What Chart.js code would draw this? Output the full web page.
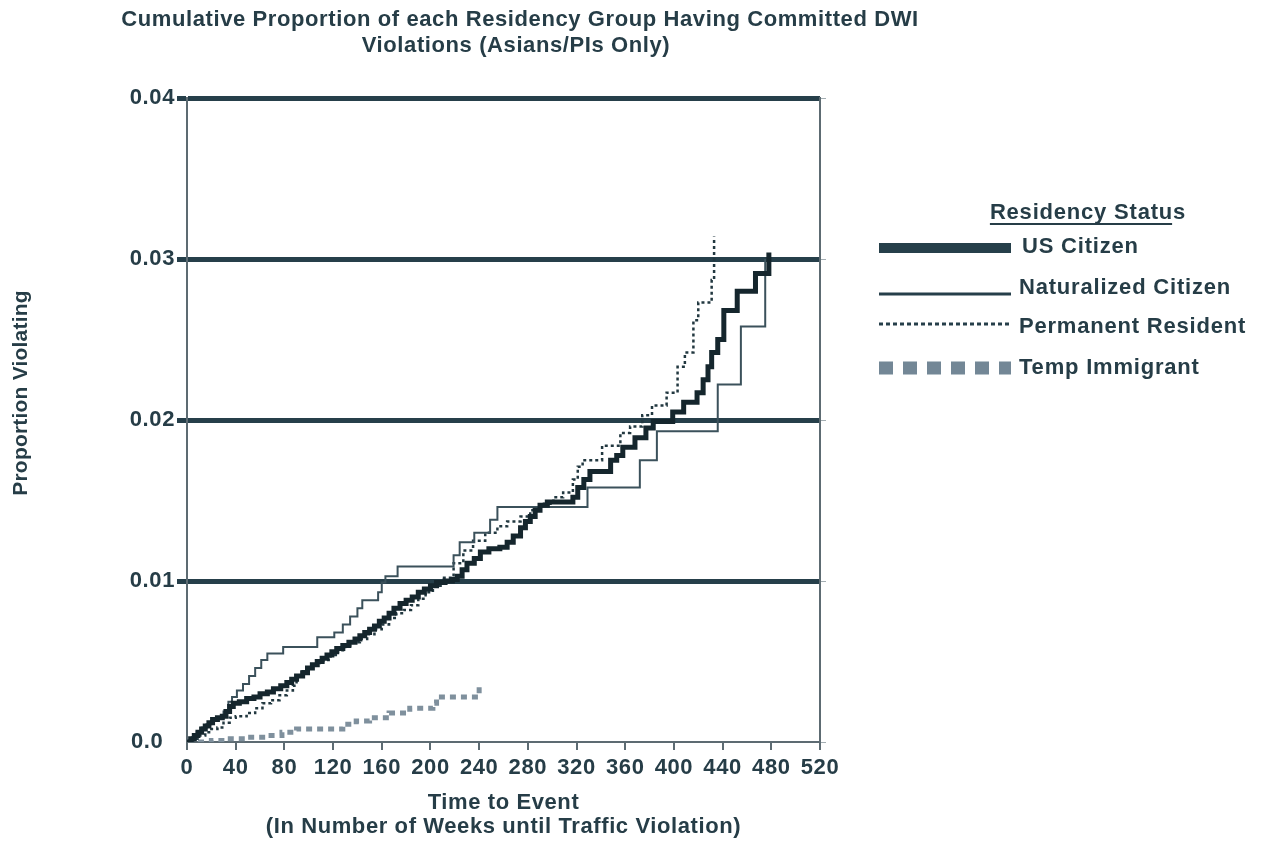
<!DOCTYPE html>
<html>
<head>
<meta charset="utf-8">
<title>Cumulative Proportion of each Residency Group Having Committed DWI Violations</title>
<script src="https://cdn.jsdelivr.net/npm/chart.js@4.4.1/dist/chart.umd.min.js"></script>
<style>
  body { margin: 0; background: #fff; }
  #wrap { width: 1263px; height: 843px; }
</style>
</head>
<body>
<div id="wrap"><canvas id="dwi-chart" width="1263" height="843"></canvas></div>
<script>
// weeks until violation and cumulative proportion
var usWeeks = [0, 3, 6, 9, 12, 15, 18, 21, 25, 29, 32, 35, 38, 43, 49, 55, 60, 66, 71, 77, 82, 86, 90, 95, 99, 103, 107, 111, 115, 119, 123, 128, 133, 138, 142, 146, 150, 154, 158, 162, 166, 170, 175, 180, 185, 190, 195, 200, 205, 212, 218, 222, 226, 230, 236, 241, 248, 257, 263, 268, 274, 278, 282, 286, 290, 296, 317, 321, 326, 331, 348, 353, 358, 368, 377, 383, 399, 408, 419, 424, 428, 431, 436, 441, 452, 467, 478];
var usProp = [0, 0.0002, 0.0004, 0.0006, 0.0008, 0.001, 0.0012, 0.0014, 0.0015, 0.0016, 0.0019, 0.0022, 0.0024, 0.0025, 0.0027, 0.0028, 0.003, 0.0031, 0.0033, 0.0035, 0.0037, 0.0039, 0.0041, 0.0043, 0.0046, 0.0048, 0.005, 0.0052, 0.0054, 0.0056, 0.0058, 0.006, 0.0062, 0.0064, 0.0066, 0.0068, 0.007, 0.0072, 0.0075, 0.0077, 0.008, 0.0083, 0.0086, 0.0088, 0.009, 0.0093, 0.0095, 0.0097, 0.0099, 0.01, 0.0101, 0.0103, 0.0107, 0.0111, 0.0114, 0.0118, 0.012, 0.0121, 0.0124, 0.0128, 0.0133, 0.0137, 0.014, 0.0144, 0.0147, 0.0149, 0.0152, 0.0158, 0.0163, 0.0168, 0.0175, 0.0178, 0.0183, 0.0189, 0.0195, 0.0199, 0.0205, 0.0211, 0.0217, 0.0225, 0.0233, 0.0242, 0.025, 0.0268, 0.028, 0.0291, 0.0304];

var natWeeks = [0, 4, 8, 12, 16, 20, 25, 30, 34, 37, 41, 46, 51, 56, 61, 66, 79, 107, 121, 128, 134, 140, 144, 157, 160, 163, 173, 219, 224, 236, 249, 255, 329, 372, 386, 436, 455, 475];
var natProp = [0, 0.0003, 0.0006, 0.0009, 0.0011, 0.0013, 0.0015, 0.0019, 0.0025, 0.0028, 0.0032, 0.0036, 0.0041, 0.0046, 0.0051, 0.0055, 0.0059, 0.0065, 0.0068, 0.0073, 0.0078, 0.0083, 0.0088, 0.0093, 0.0099, 0.0103, 0.0109, 0.0116, 0.0124, 0.013, 0.0138, 0.0146, 0.0158, 0.0175, 0.0193, 0.0222, 0.0258, 0.03];

var permWeeks = [0, 5, 10, 15, 20, 25, 30, 35, 40, 49, 56, 62, 69, 76, 82, 87, 90, 95, 100, 106, 112, 118, 124, 130, 136, 142, 148, 154, 160, 166, 172, 178, 184, 190, 196, 202, 210, 219, 227, 235, 245, 255, 263, 274, 282, 290, 301, 309, 317, 321, 325, 341, 356, 364, 374, 382, 394, 403, 409, 416, 420, 431, 433];
var permProp = [0, 0.0002, 0.0004, 0.0006, 0.0008, 0.0009, 0.0012, 0.0015, 0.0016, 0.0018, 0.0021, 0.0024, 0.0026, 0.0029, 0.0032, 0.0035, 0.0041, 0.0044, 0.0046, 0.0049, 0.0051, 0.0054, 0.0057, 0.006, 0.0062, 0.0064, 0.0067, 0.007, 0.0073, 0.0077, 0.008, 0.0082, 0.0085, 0.0089, 0.0093, 0.0097, 0.0102, 0.0111, 0.0119, 0.0125, 0.013, 0.0134, 0.0137, 0.014, 0.0144, 0.0148, 0.0152, 0.0155, 0.0163, 0.0171, 0.0175, 0.0184, 0.0192, 0.0196, 0.0203, 0.0209, 0.0217, 0.0233, 0.0242, 0.0262, 0.0273, 0.0287, 0.0314];

var tempWeeks = [0, 20, 33, 50, 65, 78, 90, 128, 139, 150, 166, 183, 202, 205, 240];
var tempProp = [0, 0.0001, 0.0002, 0.0003, 0.0004, 0.0006, 0.0008, 0.0011, 0.0013, 0.0015, 0.0018, 0.0021, 0.0024, 0.0028, 0.0034];

var groupNames = ['US Citizen', 'Naturalized Citizen', 'Permanent Resident', 'Temp Immigrant'];
var xTicks = [0, 40, 80, 120, 160, 200, 240, 280, 320, 360, 400, 440, 480, 520];
var yTicks = [0, 0.01, 0.02, 0.03, 0.04];
var yTickLabels = ['0.0', '0.01', '0.02', '0.03', '0.04'];

var titleLines = ['Cumulative Proportion of each Residency Group Having Committed DWI', 'Violations (Asians/PIs Only)'];
var xTitleLines = ['Time to Event', '(In Number of Weeks until Traffic Violation)'];
var yTitle = 'Proportion Violating';
var legendTitle = 'Residency Status';

var textColor = '#263d47';
var fontFamily = '"Liberation Sans", Arial, sans-serif';
Chart.defaults.font.family = fontFamily;
Chart.defaults.color = textColor;

function toPoints(xs, ys) {
    return xs.map(function (x, i) {
        return { x: x, y: ys[i] };
    });
}

function setTicks(list) {
    return function (scale) {
        scale.ticks = list.map(function (v) { return { value: v }; });
    };
}

// legend samples are drawn a little heavier than the lines themselves
var legendStyles = [
    { width: 10, dash: [], color: '#263f4a' },
    { width: 3, dash: [], color: '#263f4a' },
    { width: 3, dash: [4, 3], color: '#263f4a' },
    { width: 13, dash: [14, 10], color: '#738796' }
];

var decorPlugin = {
    id: 'decor',
    beforeDraw: function (chart) {
        // the original type is slightly spaced out, canvas state keeps this for the axis text too
        chart.ctx.letterSpacing = '0.6px';
    },
    afterDraw: function (chart) {
        var ctx = chart.ctx;
        ctx.save();
        ctx.fillStyle = textColor;
        ctx.font = 'bold 22px ' + fontFamily;
        ctx.textAlign = 'center';
        ctx.textBaseline = 'middle';
        ctx.letterSpacing = '0.6px';
        ctx.fillText(titleLines[0], 520, 20);
        ctx.fillText(titleLines[1], 516, 46);

        ctx.save();
        ctx.font = 'bold 21px ' + fontFamily;
        ctx.letterSpacing = '0.2px';
        ctx.translate(21, 393);
        ctx.rotate(-Math.PI / 2);
        ctx.fillText(yTitle, 0, 0);
        ctx.restore();

        // legend
        ctx.font = 'bold 22px ' + fontFamily;
        ctx.letterSpacing = '0.8px';
        ctx.fillText(legendTitle, 1088, 213);
        var w = ctx.measureText(legendTitle).width;
        ctx.fillRect(1088 - w / 2, 223, w - 14, 2);

        var labelY = [247, 288, 327, 368];
        var lineY = [248, 294, 324, 368];
        ctx.textAlign = 'left';
        groupNames.forEach(function (name, i) {
            var st = legendStyles[i];
            ctx.save();
            ctx.strokeStyle = st.color;
            ctx.lineWidth = st.width;
            ctx.lineCap = 'butt';
            ctx.setLineDash(st.dash);
            ctx.beginPath();
            ctx.moveTo(879, lineY[i]);
            ctx.lineTo(1011, lineY[i]);
            ctx.stroke();
            ctx.restore();
            ctx.fillText(name, i === 0 ? 1022 : 1019, labelY[i]);
        });
        ctx.restore();
    }
};

var axisGray = '#5d6b72';

new Chart(document.getElementById('dwi-chart'), {
    type: 'line',
    data: {
        datasets: [{
            label: groupNames[0],
            data: toPoints(usWeeks, usProp),
            borderColor: '#15262d',
            borderWidth: 5
        }, {
            label: groupNames[1],
            data: toPoints(natWeeks, natProp),
            borderColor: '#3b515b',
            borderWidth: 2
        }, {
            label: groupNames[2],
            data: toPoints(permWeeks, permProp),
            borderColor: '#223840',
            borderWidth: 2.5,
            borderDash: [3, 3]
        }, {
            label: groupNames[3],
            data: toPoints(tempWeeks, tempProp),
            borderColor: '#7f909d',
            borderWidth: 5,
            borderDash: [6, 5]
        }]
    },
    options: {
        responsive: false,
        animation: false,
        layout: { padding: { left: 100, right: 435, top: 98, bottom: 0 } },
        elements: {
            line: { stepped: true, fill: false, borderCapStyle: 'butt', borderJoinStyle: 'miter', tension: 0 },
            point: { radius: 0 }
        },
        plugins: {
            legend: { display: false },
            tooltip: { enabled: false }
        },
        scales: {
            x: {
                type: 'linear',
                min: 0,
                max: 520,
                afterBuildTicks: setTicks(xTicks),
                afterFit: function (scale) { scale.height = 101; },
                ticks: { font: { size: 22, weight: 'bold' }, padding: 5, maxRotation: 0, autoSkip: false },
                grid: { drawOnChartArea: false, tickLength: 8, color: axisGray, lineWidth: 2 },
                border: { color: axisGray, width: 2 },
                title: {
                    display: true,
                    text: xTitleLines,
                    font: { size: 22, weight: 'bold', lineHeight: 1.05 },
                    padding: { top: 0, bottom: 5 }
                }
            },
            y: {
                min: 0,
                max: 0.04,
                afterBuildTicks: setTicks(yTicks),
                afterFit: function (scale) { scale.width = 87; },
                ticks: {
                    font: { size: 22, weight: 'bold' },
                    padding: 2,
                    callback: function (value, index) {
                        // the zero label sits a little in from the others in the original
                        return index === 0 ? yTickLabels[index] + ' \u2009' : yTickLabels[index];
                    }
                },
                grid: {
                    color: function (c) { return c.tick && c.tick.value === 0 ? 'rgba(0,0,0,0)' : '#263f4a'; },
                    lineWidth: 5,
                    tickLength: 10
                },
                border: { color: axisGray, width: 2 }
            },
            y2: {
                position: 'right',
                min: 0,
                max: 0.04,
                afterBuildTicks: setTicks(yTicks),
                afterFit: function (scale) { scale.width = 8; },
                ticks: { display: false },
                grid: { drawOnChartArea: false, tickLength: 6, color: '#a3adb2', lineWidth: 1 },
                border: { color: axisGray, width: 2 }
            }
        }
    },
    plugins: [decorPlugin]
});
</script>
</body>
</html>
